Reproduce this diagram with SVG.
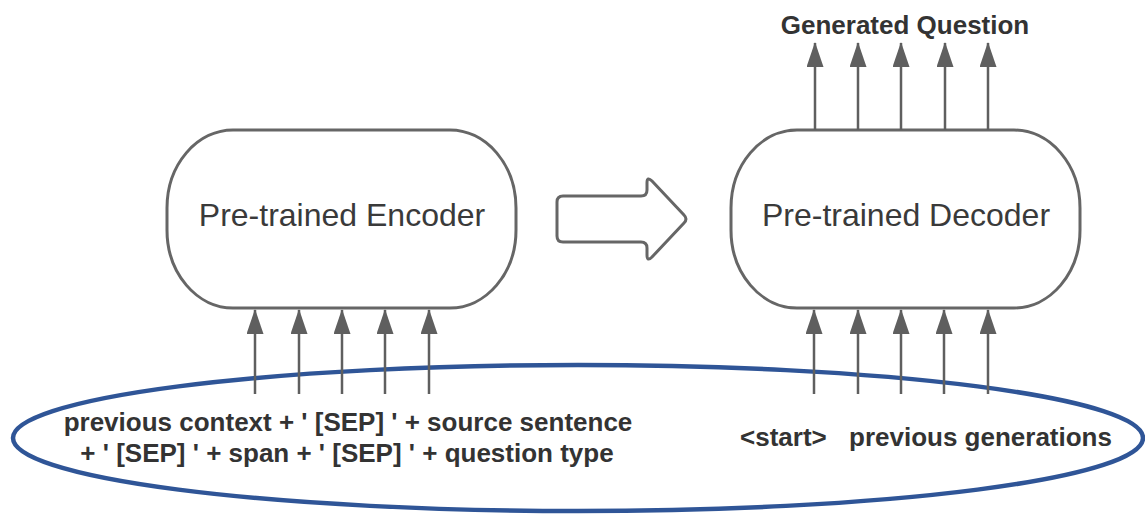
<svg xmlns="http://www.w3.org/2000/svg" width="1145" height="516" viewBox="0 0 1145 516">
  <defs>
    <marker id="ah" viewBox="0 0 25 17" refX="24" refY="8.5" markerWidth="25" markerHeight="17" markerUnits="userSpaceOnUse" orient="auto">
      <path d="M0,0 L25,8.5 L0,17 Z" fill="#5f5f5f"/>
    </marker>
  </defs>
  <style>
    .box { fill: #ffffff; stroke: #666666; stroke-width: 3; }
    .label { font-family: "Liberation Sans", Arial, sans-serif; font-size: 32px; fill: #3a3a3a; text-anchor: middle; }
    .bold { font-family: "Liberation Sans", Arial, sans-serif; font-size: 26px; font-weight: bold; fill: #333333; }
    .conn line { stroke: #5f5f5f; stroke-width: 2.5; marker-end: url(#ah); }
  </style>
  <rect width="1145" height="516" fill="#ffffff"/>

  <g id="encoder">
    <rect class="box" x="167" y="130" width="349" height="178" rx="66" ry="78"/>
    <text class="label" x="342" y="226">Pre-trained Encoder</text>
  </g>

  <g id="transfer-arrow">
    <path class="box" stroke-linejoin="round" d="M 563,196 L 641,196 Q 647,196 647,190 L 647,183 Q 647,176 652,181 L 684,215 Q 688,219 684,223 L 652,257 Q 647,262 647,255 L 647,248 Q 647,242 641,242 L 563,242 Q 557,242 557,236 L 557,202 Q 557,196 563,196 Z"/>
  </g>

  <g id="decoder">
    <rect class="box" x="731" y="130" width="349" height="178" rx="66" ry="78"/>
    <text class="label" x="906" y="226">Pre-trained Decoder</text>
  </g>

  <g id="output-label">
    <text class="bold" x="905" y="34" text-anchor="middle" font-size="25">Generated Question</text>
  </g>

  <g id="encoder-input">
    <text class="bold" x="348" y="431" text-anchor="middle">previous context + ' [SEP] ' + source sentence</text>
    <text class="bold" x="347" y="462" text-anchor="middle">+ ' [SEP] ' + span + ' [SEP] ' + question type</text>
  </g>

  <g id="decoder-input">
    <text class="bold" x="740" y="446">&lt;start&gt;</text>
    <text class="bold" x="849" y="446">previous generations</text>
  </g>

  <g id="input-ellipse">
    <ellipse cx="578" cy="438" rx="565" ry="73" fill="none" stroke="#2f5597" stroke-width="4.5"/>
  </g>

  <g id="connectors" class="conn">
    <line x1="255" y1="394" x2="255" y2="310"/>
    <line x1="299" y1="394" x2="299" y2="310"/>
    <line x1="342" y1="394" x2="342" y2="310"/>
    <line x1="385" y1="394" x2="385" y2="310"/>
    <line x1="429" y1="394" x2="429" y2="310"/>

    <line x1="814" y1="394" x2="814" y2="310"/>
    <line x1="858" y1="394" x2="858" y2="310"/>
    <line x1="901" y1="394" x2="901" y2="310"/>
    <line x1="944" y1="394" x2="944" y2="310"/>
    <line x1="988" y1="394" x2="988" y2="310"/>

    <line x1="815" y1="130" x2="815" y2="43"/>
    <line x1="858" y1="130" x2="858" y2="43"/>
    <line x1="901" y1="130" x2="901" y2="43"/>
    <line x1="945" y1="130" x2="945" y2="43"/>
    <line x1="988" y1="130" x2="988" y2="43"/>
  </g>
</svg>
